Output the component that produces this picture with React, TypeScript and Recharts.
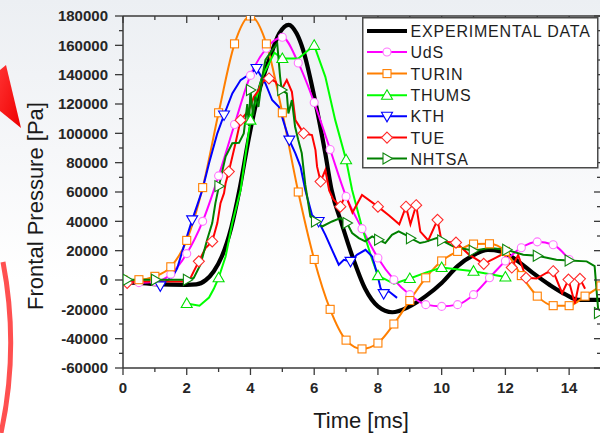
import React from 'react';
import { LineChart, Line, XAxis, YAxis } from 'recharts';

type P = [number, number];

// ---- data: [time ms, pressure Pa] ----
const expPts: P[] = [
  [0, -1500], [0.5, -2000], [1.0, -2800], [1.5, -3200], [2.0, -3300], [2.3, -3000], [2.6, 0], [2.85, 6000],
  [3.1, 16000], [3.4, 36000], [3.65, 61000], [3.95, 97000], [4.25, 127000], [4.6, 151000], [4.9, 168000],
  [5.2, 174000], [5.45, 168000], [5.65, 157000], [6.05, 120000], [6.35, 86000], [6.55, 61000], [6.87, 38000],
  [7.2, 16000], [7.6, -6000], [8.0, -18000], [8.45, -22000], [8.95, -18500], [9.5, -11000], [10.0, -2000],
  [10.5, 9500], [11.0, 17000], [11.45, 20500], [11.85, 19500], [12.35, 13500], [12.85, 5000], [13.4, -3500],
  [13.9, -10000], [14.3, -13500], [15.0, -13500],
];

const udsPts: P[] = [
  [0, -500], [0.5, -1800], [1.0, -1200], [1.5, 4000], [2.0, 18000], [2.5, 40000], [3.0, 71000], [3.5, 106000],
  [4.0, 139500], [4.5, 158000], [5.0, 165500], [5.5, 148000], [6.0, 121000], [6.5, 89000], [7.0, 57000],
  [7.5, 35000], [8.0, 15000], [8.5, 200], [9.0, -10000], [9.5, -16800], [10.0, -18000], [10.5, -16800],
  [11.0, -10000], [11.5, 1500], [12.0, 13000], [12.5, 22000], [13.0, 26000], [13.5, 24000], [14.0, 14000],
];
const udsMarks: number[] = udsPts.map((p) => p[0]);

const turinPts: P[] = [
  [0, 0], [0.5, 200], [1.0, 2500], [1.5, 9000], [2.0, 27000], [2.5, 63000], [3.0, 114000], [3.5, 161000],
  [4.0, 180000], [4.5, 161000], [5.0, 114000], [5.5, 60000], [6.0, 14000], [6.5, -20000], [7.0, -41000],
  [7.5, -47000], [8.0, -43000], [8.5, -30000], [9.0, -14000], [9.5, 1500], [10.0, 13000], [10.5, 19500],
  [11.0, 24500], [11.5, 24700], [12.0, 19500], [12.5, 3000], [13.0, -11000], [13.5, -17500], [14.0, -17500],
  [14.5, -11000], [15.0, -4000],
];
const turinMarks: number[] = turinPts.map((p) => p[0]);

const thumsPts: P[] = [
  [2.0, -16000], [2.4, -17500], [2.7, -12000], [2.85, -6000], [3.0, 1500], [3.22, 16000], [3.43, 38800],
  [3.69, 61400], [4.0, 109000], [4.37, 138500], [4.75, 155000], [5.0, 151000], [5.5, 151000], [6.0, 160000],
  [6.35, 138500], [6.66, 109000], [7.0, 82000], [7.19, 61400], [7.5, 36000], [7.82, 13800], [8.0, 3000],
  [8.5, -2500], [9.0, 1000], [9.5, 5000], [10.0, 8500], [11.0, 6000], [12.0, 2000],
];
const thumsMarks: number[] = [2, 3, 4, 5, 6, 7, 8, 9, 10, 11, 12];

const kthPts: P[] = [
  [1.1, -4000], [1.17, -4000], [1.3, -1500], [1.55, 2000], [1.7, 8000], [1.91, 23000], [2.17, 41000],
  [2.33, 51000], [2.49, 61400], [2.7, 79600], [2.96, 100000], [3.17, 112500], [3.43, 127200], [3.69, 136300],
  [4.0, 140800], [4.19, 144200], [4.47, 134000], [4.68, 122700], [4.89, 118100], [4.99, 111300], [5.22, 95400],
  [5.41, 86400], [5.57, 77300], [5.72, 61400], [5.93, 44400], [6.14, 39900], [6.35, 30800], [6.56, 20600],
  [6.77, 10400], [6.93, 13800], [7.14, 12700], [7.34, 17200], [7.61, 20600], [7.82, 16000], [7.97, 4800],
  [8.08, -5400], [8.18, -9300], [8.34, -7700], [8.6, -12200],
];
const kthMarks: number[] = [1.17, 2.17, 3.17, 4.19, 5.22, 6.14, 7.14, 8.18];

const tuePts: P[] = [
  [0.13, -2000], [0.5, -1000], [1.0, -1000], [1.5, -1000], [2.0, -1000], [2.12, 1400], [2.22, 5900],
  [2.38, 12700], [2.59, 21800], [2.8, 26300], [2.96, 38800], [3.06, 52400], [3.17, 59200], [3.22, 66000],
  [3.32, 73900], [3.53, 93200], [3.69, 109000], [3.95, 115900], [4.11, 124900], [4.26, 129500], [4.37, 135100],
  [4.58, 137400], [4.79, 135100], [4.94, 128300], [5.14, 136300], [5.3, 128300], [5.41, 109000], [5.67, 100000],
  [5.93, 98800], [6.04, 88600], [6.09, 77300], [6.2, 67100], [6.35, 75000], [6.47, 61000], [6.6, 55000],
  [6.82, 50000], [6.98, 58000], [7.2, 46000], [7.5, 58000], [8.0, 50000], [8.35, 44000], [8.67, 38000],
  [8.88, 50000], [9.02, 38000], [9.2, 51000], [9.33, 33000], [9.58, 27000], [9.87, 41000], [10.0, 26000],
  [10.45, 25500], [10.85, 17500], [11.32, 11000], [11.72, 15500], [11.95, 18000], [12.2, 8500], [12.4, 17000],
  [12.65, 1500], [12.98, 1000], [13.3, 5000], [13.5, 6000], [13.78, -9000], [13.98, 300], [14.18, -16000],
  [14.34, 800], [14.5, -6000],
];
const tueMarks: number[] = [0.13, 2.38, 2.8, 3.32, 3.69, 4.58, 5.67, 6.2, 6.82, 8.0, 8.88, 9.2, 9.87, 10.45,
  11.32, 12.2, 12.65, 13.5, 13.98, 14.34];

const nhtsaPts: P[] = [
  [0.13, 200], [0.5, 200], [1.02, 200], [1.5, 200], [2.02, 200], [2.22, 1400], [2.43, 10400], [2.64, 27400],
  [2.8, 38800], [2.9, 52400], [3.01, 64000], [3.22, 84100], [3.43, 93200], [3.64, 93500], [3.79, 100000],
  [3.9, 120000], [3.95, 105000], [4.0, 129500], [4.08, 112000], [4.15, 125000], [4.25, 118000], [4.37, 138500],
  [4.47, 150000], [4.68, 156700], [4.84, 161200], [4.93, 138500], [4.98, 129500], [5.14, 127200], [5.19, 113600],
  [5.3, 122700], [5.4, 104500], [5.5, 95400], [5.61, 86400], [5.72, 65000], [5.88, 43300], [6.04, 39900],
  [6.25, 36500], [6.56, 39900], [6.82, 42200], [7.03, 38800], [7.19, 32000], [7.4, 28600], [7.6, 26300],
  [7.82, 29700], [8.02, 27400], [8.23, 25200], [8.44, 30800], [8.65, 33100], [8.85, 31000], [9.02, 28500],
  [9.32, 25200], [9.49, 26000], [9.84, 28600], [10.0, 27000], [10.36, 22900], [10.99, 20000], [11.51, 21800],
  [12.04, 20600], [12.56, 17200], [13.0, 16500], [13.6, 13800], [14.0, 13300], [14.55, 12700], [14.8, 9500],
  [14.88, -12000], [14.92, -22500],
];
const nhtsaMarks: number[] = [0.13, 1.02, 2.02, 3.01, 4.0, 4.98, 6.04, 7.03, 8.02, 9.02, 10.0, 10.99, 12.04,
  13.0, 14.0, 14.92];

const xTicks: number[] = [0, 1, 2, 3, 4, 5, 6, 7, 8, 9, 10, 11, 12, 13, 14, 15];
const yTicks: number[] = [-60000, -50000, -40000, -30000, -20000, -10000, 0, 10000, 20000, 30000, 40000, 50000,
  60000, 70000, 80000, 90000, 100000, 110000, 120000, 130000, 140000, 150000, 160000, 170000, 180000];

const FONT = '"Liberation Sans", Arial, sans-serif';
const AXIS = '#3a3a3a';

const rows = (pts: P[]) => pts.map(([t, v]) => ({ t, v }));

type Shape = 'none' | 'circle' | 'square' | 'up' | 'down' | 'diamond' | 'right';

function Marker({ shape, color, x, y }: { shape: Shape; color: string; x: number; y: number }) {
  const common = { fill: '#ffffff', stroke: color, strokeWidth: 1.1 };
  switch (shape) {
    case 'circle':
      return <circle cx={x} cy={y} r={4} {...common} />;
    case 'square':
      return <rect x={x - 4} y={y - 4} width={8} height={8} {...common} />;
    case 'up':
      return <polygon points={`${x},${y - 5.5} ${x + 5.5},${y + 4} ${x - 5.5},${y + 4}`} {...common} />;
    case 'down':
      return <polygon points={`${x - 5.5},${y - 4} ${x + 5.5},${y - 4} ${x},${y + 5.5}`} {...common} />;
    case 'diamond':
      return <polygon points={`${x},${y - 5.5} ${x + 5.5},${y} ${x},${y + 5.5} ${x - 5.5},${y}`} {...common} />;
    case 'right':
      return <polygon points={`${x - 4},${y - 5.5} ${x + 5.5},${y} ${x - 4},${y + 5.5}`} {...common} />;
    default:
      return null;
  }
}

const makeDot = (shape: Shape, color: string, marks: number[]) => (props: any) => {
  const { cx, cy, payload, index } = props;
  if (cx == null || cy == null || !marks.some((m) => Math.abs(m - payload.t) < 1e-9)) {
    return <g key={`d${index}`} />;
  }
  return (
    <g key={`d${index}`}>
      <Marker shape={shape} color={color} x={cx} y={cy} />
    </g>
  );
};

type Series = {
  name: string;
  pts: P[];
  color: string;
  markColor: string;
  width: number;
  shape: Shape;
  marks: number[];
  curve: 'linear' | 'monotone';
};

const series: Series[] = [
  { name: 'EXPERIMENTAL DATA', pts: expPts, color: '#000000', markColor: '#000', width: 4.2, shape: 'none', marks: [], curve: 'monotone' },
  { name: 'UdS', pts: udsPts, color: '#ff00ff', markColor: '#ff77ff', width: 2, shape: 'circle', marks: udsMarks, curve: 'monotone' },
  { name: 'TURIN', pts: turinPts, color: '#ff7f00', markColor: '#ff7f00', width: 2, shape: 'square', marks: turinMarks, curve: 'monotone' },
  { name: 'THUMS', pts: thumsPts, color: '#00ff00', markColor: '#00e000', width: 2, shape: 'up', marks: thumsMarks, curve: 'linear' },
  { name: 'KTH', pts: kthPts, color: '#0000ff', markColor: '#0000ff', width: 2, shape: 'down', marks: kthMarks, curve: 'linear' },
  { name: 'TUE', pts: tuePts, color: '#ff0000', markColor: '#ff2a2a', width: 2, shape: 'diamond', marks: tueMarks, curve: 'linear' },
  { name: 'NHTSA', pts: nhtsaPts, color: '#008000', markColor: '#118811', width: 2, shape: 'right', marks: nhtsaMarks, curve: 'linear' },
];

const tickText = { fontFamily: FONT, fontSize: 15, fontWeight: 700, fill: '#262626' } as const;

const BottomTick = (props: any) => {
  const { x, y, payload } = props;
  const v = payload.value as number;
  const major = v % 2 === 0;
  return (
    <g>
      <line x1={x} x2={x} y1={y} y2={y + (major ? 7 : 4)} stroke={AXIS} strokeWidth={1.3} />
      {major && (
        <text x={x} y={y + 25} textAnchor="middle" {...tickText}>
          {v}
        </text>
      )}
    </g>
  );
};

const TopTick = (props: any) => {
  const { x, y, payload } = props;
  const v = payload.value as number;
  const major = v % 2 === 0;
  return <line x1={x} x2={x} y1={y} y2={y + (major ? 7 : 4)} stroke={AXIS} strokeWidth={1.3} />;
};

const LeftTick = (props: any) => {
  const { x, y, payload } = props;
  const v = payload.value as number;
  const major = v % 20000 === 0;
  return (
    <g>
      <line x1={x - (major ? 8 : 4)} x2={x} y1={y} y2={y} stroke={AXIS} strokeWidth={1.3} />
      {major && (
        <text x={x - 15} y={y + 5.3} textAnchor="end" {...tickText}>
          {v}
        </text>
      )}
    </g>
  );
};

const RightTick = (props: any) => {
  const { x, y, payload } = props;
  const v = payload.value as number;
  const major = v % 20000 === 0;
  return <line x1={x - (major ? 7 : 4)} x2={x} y1={y} y2={y} stroke={AXIS} strokeWidth={1.3} />;
};

const YTitle = () => (
  <text x={43} y={206} transform="rotate(-90, 43, 206)" textAnchor="middle" fontFamily={FONT} fontSize={22} fill="#1a1a1a">
    Frontal Pressure [Pa]
  </text>
);

const XTitle = () => (
  <text x={361} y={428} textAnchor="middle" fontFamily={FONT} fontSize={22} fill="#1a1a1a">
    Time [ms]
  </text>
);

function LegendBox() {
  const rowY = [14, 35, 56.6, 78.3, 99.3, 120.6, 141.6];
  return (
    <svg
      width={237}
      height={152}
      style={{ position: 'absolute', left: 361.5, top: 16.5 }}
    >
      <rect x={0.75} y={0.75} width={235} height={150} fill="#ffffff" stroke="#4a4a4a" strokeWidth={1.5} />
      {series.map((s, i) => (
        <g key={s.name}>
          <line x1={5} x2={45} y1={rowY[i]} y2={rowY[i]} stroke={s.color} strokeWidth={s.width} />
          <Marker shape={s.shape} color={s.markColor} x={25} y={rowY[i]} />
          <text
            x={48.5}
            y={rowY[i] + 6}
            fontFamily={FONT}
            fontSize={16}
            letterSpacing={0.8}
            fill="#1e1e1e"
          >
            {s.name}
          </text>
        </g>
      ))}
    </svg>
  );
}

function Decor() {
  return (
    <svg width={60} height={433} style={{ position: 'absolute', left: 0, top: 0 }}>
      <defs>
        <linearGradient id="arrowGrad" x1="0" y1="0" x2="1" y2="1">
          <stop offset="0" stopColor="#ff3030" />
          <stop offset="1" stopColor="#ee0000" />
        </linearGradient>
      </defs>
      <polygon points="0,70 6,65 21,128 0,111" fill="url(#arrowGrad)" />
      <path d="M 3 262 A 430 430 0 0 1 1 433" fill="none" stroke="#ff5050" strokeWidth={5} />
    </svg>
  );
}

export default function App() {
  return (
    <div
      style={{
        position: 'absolute',
        left: 0,
        top: 0,
        width: 600,
        height: 433,
        overflow: 'hidden',
        background: 'linear-gradient(to bottom, #eceff3 0%, #f6f7f9 35%, #ffffff 65%)',
      }}
    >
      <Decor />
      <div style={{ position: 'absolute', left: 0, top: 0 }}>
        <LineChart width={602} height={433} margin={{ top: 15, right: 0, bottom: 0, left: 0 }}>
          <XAxis
            xAxisId="b"
            type="number"
            dataKey="t"
            domain={[0, 15]}
            ticks={xTicks}
            interval={0}
            allowDataOverflow
            height={65}
            tickSize={0}
            tickMargin={0}
            tickLine={false}
            axisLine={{ stroke: AXIS, strokeWidth: 1.5 }}
            tick={BottomTick}
            label={{ content: XTitle }}
          />
          <XAxis
            xAxisId="t"
            orientation="top"
            type="number"
            dataKey="t"
            domain={[0, 15]}
            ticks={xTicks}
            interval={0}
            allowDataOverflow
            height={1}
            tickSize={0}
            tickMargin={0}
            tickLine={false}
            axisLine={{ stroke: AXIS, strokeWidth: 1.5 }}
            tick={TopTick}
          />
          <YAxis
            yAxisId="l"
            type="number"
            domain={[-60000, 180000]}
            ticks={yTicks}
            interval={0}
            allowDataOverflow
            width={123}
            tickSize={0}
            tickMargin={0}
            tickLine={false}
            axisLine={{ stroke: AXIS, strokeWidth: 1.5 }}
            tick={LeftTick}
            label={{ content: YTitle }}
          />
          <YAxis
            yAxisId="r"
            orientation="right"
            type="number"
            domain={[-60000, 180000]}
            ticks={yTicks}
            interval={0}
            allowDataOverflow
            width={1}
            tickSize={0}
            tickMargin={0}
            tickLine={false}
            axisLine={{ stroke: AXIS, strokeWidth: 1.5 }}
            tick={RightTick}
          />
          {series.map((s) => (
            <Line
              key={s.name}
              xAxisId="b"
              yAxisId="l"
              data={rows(s.pts)}
              dataKey="v"
              name={s.name}
              type={s.curve}
              stroke={s.color}
              strokeWidth={s.width}
              dot={s.shape === 'none' ? false : makeDot(s.shape, s.markColor, s.marks)}
              activeDot={false}
              isAnimationActive={false}
            />
          ))}
        </LineChart>
      </div>
      <LegendBox />
    </div>
  );
}
